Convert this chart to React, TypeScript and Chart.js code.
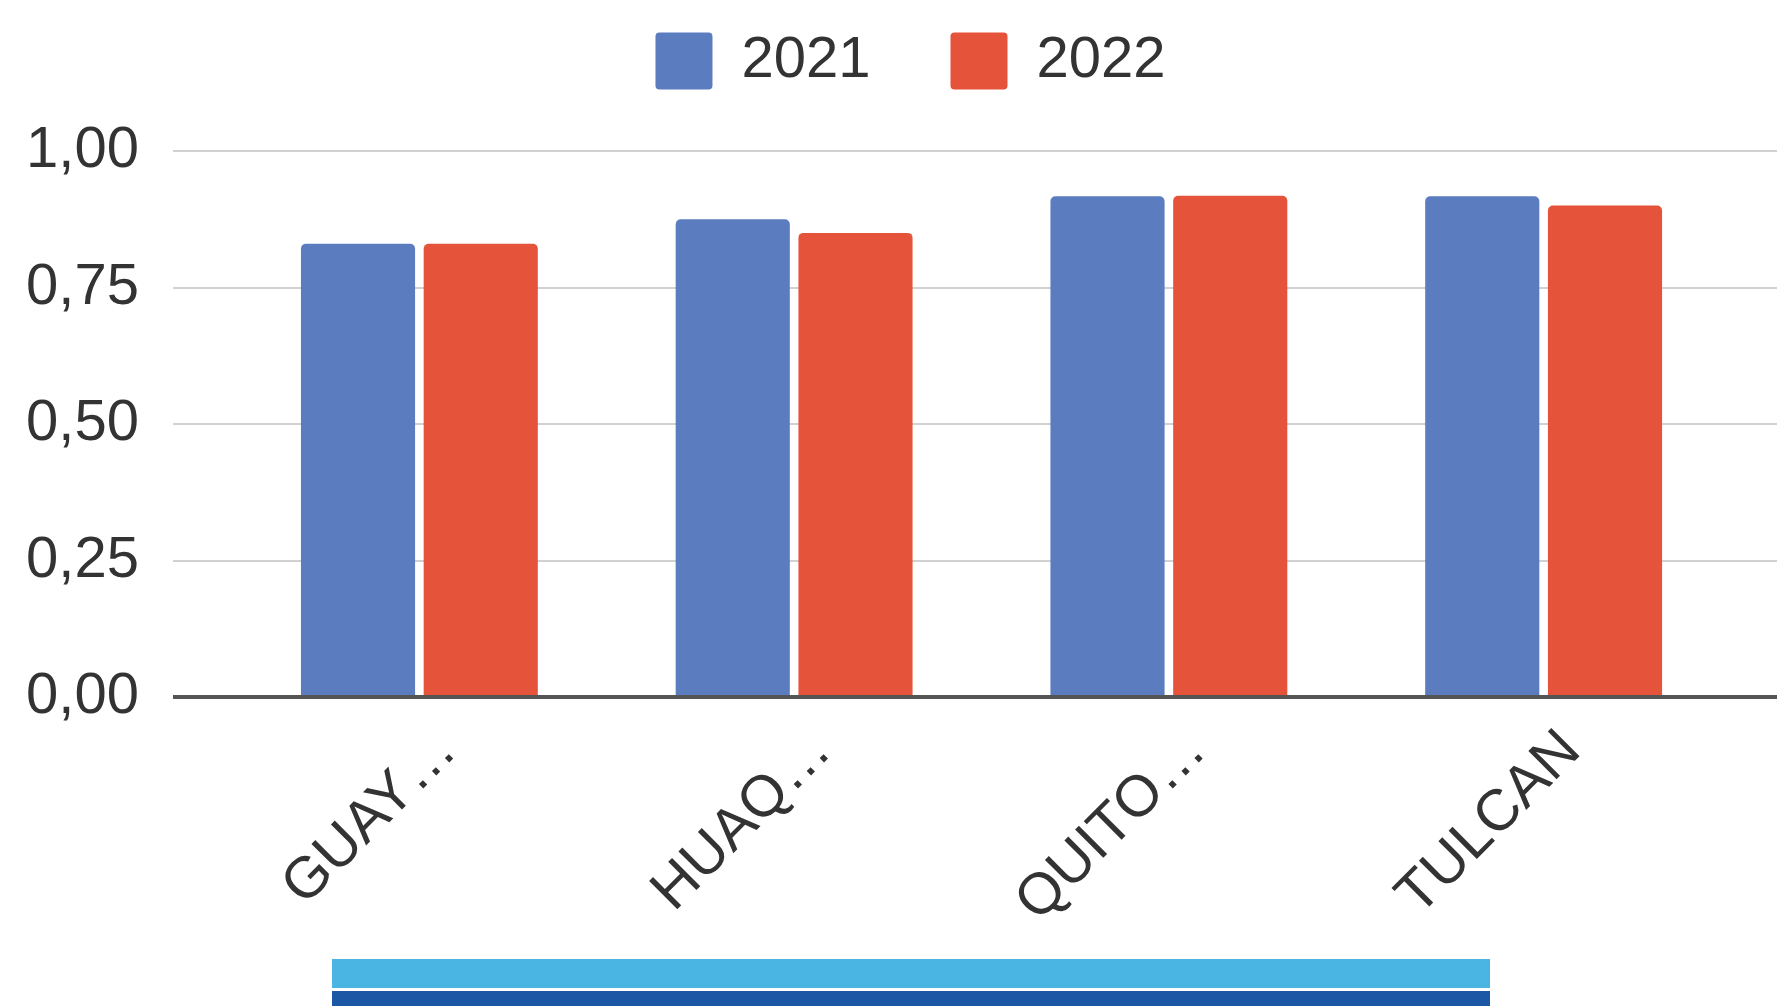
import React, { useEffect, useRef } from 'react';
import { Chart, registerables } from 'chart.js';

Chart.register(...registerables);

const categories = ['GUAY…', 'HUAQ…', 'QUITO…', 'TULCAN'];
const seriesLabels = ['2021', '2022'];
const values2021 = [0.83, 0.875, 0.917, 0.917];
const values2022 = [0.83, 0.85, 0.918, 0.9];
const yTickLabels = ['0,00', '0,25', '0,50', '0,75', '1,00'];
const seriesColors = ['#5B7CBE', '#E5543A'];

const GRID = '#d2d0d0';
const BASE = '#555555';

const legendSpacer = {
  id: 'legendSpacer',
  beforeLayout(chart: any) {
    const legend = chart.legend;
    if (!legend || legend._spacerPatched) return;
    const fit = legend.fit;
    legend.fit = function () {
      fit.call(this);
      this.height += 51;
    };
    legend._spacerPatched = true;
  },
  afterLayout(chart: any) {
    const legend = chart.legend;
    if (legend) legend.left = 44;
  },
};

export default function App() {
  const ref = useRef<HTMLCanvasElement>(null);

  useEffect(() => {
    document.body.style.margin = '0';
    Chart.defaults.font.family = "'Liberation Sans', Arial, sans-serif";
    const gridColor = (ctx: any) => (ctx.tick && ctx.tick.value === 0 ? BASE : GRID);
    const gridWidth = (ctx: any) => (ctx.tick && ctx.tick.value === 0 ? 4 : 2);

    const chart = new Chart(ref.current!, {
      type: 'bar',
      data: {
        labels: categories,
        datasets: [
          {
            label: seriesLabels[0],
            data: values2021,
            backgroundColor: seriesColors[0],
            borderRadius: 5,
            categoryPercentage: 0.655,
            barPercentage: 0.93,
          },
          {
            label: seriesLabels[1],
            data: values2022,
            backgroundColor: seriesColors[1],
            borderRadius: 5,
            categoryPercentage: 0.655,
            barPercentage: 0.93,
          },
        ],
      },
      options: {
        responsive: false,
        devicePixelRatio: 1,
        animation: false,
        layout: { padding: { top: -48, left: 0, right: 0, bottom: 0 } },
        plugins: {
          tooltip: { enabled: false },
          legend: {
            position: 'top',
            labels: {
              font: { size: 58 },
              color: '#333333',
              boxWidth: 57,
              boxHeight: 57,
              padding: 80,
              useBorderRadius: true,
              borderRadius: 4,
            },
          },
        },
        scales: {
          x: {
            z: 1,
            grid: { display: false },
            border: { display: true, color: BASE, width: 4 },
            ticks: {
              font: { size: 58 },
              color: '#333333',
              maxRotation: 45,
              minRotation: 45,
              autoSkip: false,
              padding: 12,
              labelOffset: 28,
            },
            afterFit(scale: any) {
              scale.height = 309;
            },
          },
          y: {
            position: 'left',
            min: 0,
            max: 1,
            border: { display: false },
            grid: {
              color: gridColor,
              lineWidth: gridWidth,
              tickColor: gridColor,
              tickWidth: gridWidth,
              drawTicks: true,
              tickLength: 59,
            },
            ticks: {
              stepSize: 0.25,
              font: { size: 58 },
              color: '#333333',
              padding: 34,
              callback: (_v: any, i: number) => yTickLabels[i],
            },
            afterFit(scale: any) {
              scale.width = 232;
            },
          },
          y2: {
            position: 'right',
            min: 0,
            max: 1,
            border: { display: false },
            grid: {
              drawOnChartArea: false,
              color: gridColor,
              lineWidth: gridWidth,
              tickColor: gridColor,
              tickWidth: gridWidth,
              drawTicks: true,
              tickLength: 46,
            },
            ticks: { stepSize: 0.25, display: false },
            afterFit(scale: any) {
              scale.width = 46;
            },
          },
        },
      },
      plugins: [legendSpacer],
    } as any);
    return () => chart.destroy();
  }, []);

  return (
    <div style={{ position: 'relative', width: 1777, height: 1006, background: '#ffffff', overflow: 'hidden' }}>
      <canvas ref={ref} width={1777} height={1006} style={{ display: 'block' }} />
      <div style={{ position: 'absolute', left: 332, top: 959, width: 1158, height: 29, background: '#4AB4E3' }} />
      <div style={{ position: 'absolute', left: 332, top: 991, width: 1158, height: 15, background: '#1B57A4' }} />
    </div>
  );
}
